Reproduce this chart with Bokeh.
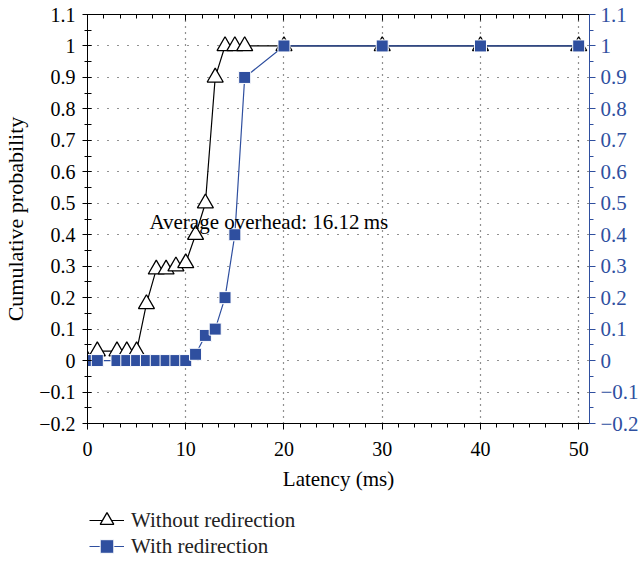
from bokeh.plotting import figure
from bokeh.models import (Range1d, LinearAxis, SingleIntervalTicker, CustomJSTickFormatter,
                          Legend, LegendItem, Label)
from bokeh.layouts import column
from bokeh.embed import file_html
from bokeh.resources import INLINE

# ---- data ----
without_x = [0, 1, 3, 4, 5, 6, 7, 8, 9, 10, 11, 12, 13, 14, 15, 16, 20, 30, 40, 50]
without_y = [0, 0.03, 0.03, 0.03, 0.03, 0.18, 0.29, 0.29, 0.30, 0.31, 0.40, 0.50, 0.90,
             1, 1, 1, 1, 1, 1, 1]
with_x = [0, 1, 3, 4, 5, 6, 7, 8, 9, 10, 11, 12, 13, 14, 15, 16, 20, 30, 40, 50]
with_y = [0, 0, 0, 0, 0, 0, 0, 0, 0, 0, 0.02, 0.08, 0.10, 0.20, 0.40, 0.90, 1, 1, 1, 1]
series_labels = ["Without redirection", "With redirection"]
annotation_text = "Average overhead: 16.12\u2009ms"
x_label = "Latency (ms)"
y_label = "Cumulative probability"

BLUE = "#2f4f9f"
FONT = "Liberation Serif"
NAN = float("nan")

p = figure(width=642, height=503, output_backend="svg", toolbar_location=None,
           x_range=Range1d(0, 51.1), y_range=Range1d(-0.2, 1.1),
           x_axis_location=None, y_axis_location=None,
           min_border_left=86, min_border_right=53, min_border_top=14, min_border_bottom=80)
p.extra_y_ranges = {"right": Range1d(-0.2, 1.1)}
p.outline_line_color = "black"
p.background_fill_color = "white"
p.border_fill_color = "white"

fmt_code = """
const v = Math.round(tick * 10) / 10;
return (v < 0 ? "\u2212" : "") + String(Math.abs(v));
"""

def style_axis(ax, color, tick_in, tick_out, minor_in, minor_out):
    ax.axis_line_color = color
    ax.major_tick_line_color = color
    ax.minor_tick_line_color = color
    ax.major_tick_in = tick_in
    ax.major_tick_out = tick_out
    ax.minor_tick_in = minor_in
    ax.minor_tick_out = minor_out
    ax.major_label_text_font = FONT
    ax.major_label_text_font_size = "20px"
    ax.major_label_text_color = color
    ax.axis_label_text_font = FONT
    ax.axis_label_text_font_style = "normal"
    ax.axis_label_text_font_size = "21px"
    ax.axis_label_text_color = color

# bottom axis
xb = LinearAxis(ticker=SingleIntervalTicker(interval=10, num_minor_ticks=6), axis_label=x_label)
style_axis(xb, "black", 0, 6, 0, 4)
xb.major_label_standoff = 12
xb.axis_label_standoff = 8
p.add_layout(xb, "below")

# top axis (ticks only)
xt = LinearAxis(ticker=SingleIntervalTicker(interval=10, num_minor_ticks=6),
                formatter=CustomJSTickFormatter(code="return '';"))
style_axis(xt, "black", 6, 0, 4, 0)
xt.major_label_standoff = 0
p.add_layout(xt, "above")

# left axis
yl = LinearAxis(ticker=SingleIntervalTicker(interval=0.1, num_minor_ticks=2),
                formatter=CustomJSTickFormatter(code=fmt_code), axis_label=y_label)
style_axis(yl, "black", 4, 5, 4, 3)
yl.axis_label_text_font_size = "22px"
yl.major_label_standoff = 7
yl.axis_label_standoff = 8
p.add_layout(yl, "left")

# right axis
yr = LinearAxis(y_range_name="right", ticker=SingleIntervalTicker(interval=0.1, num_minor_ticks=2),
                formatter=CustomJSTickFormatter(code=fmt_code))
style_axis(yr, BLUE, 0, 6, 0, 4)
yr.major_label_text_font_size = "21px"
yr.major_label_standoff = 5
p.add_layout(yr, "right")

# grids
p.xgrid.ticker = SingleIntervalTicker(interval=10)
p.ygrid.ticker = SingleIntervalTicker(interval=0.1)
for g in (p.xgrid, p.ygrid):
    g.grid_line_color = "#222222"
    g.grid_line_width = 1.2
p.xgrid.grid_line_dash = "1 5"
p.ygrid.grid_line_dash = "1 9"

# series
line_kw1 = dict(line_color="black", line_width=1.2)
mark_kw1 = dict(marker="triangle", size=16, fill_color="white", line_color="black", line_width=1.3)
line_kw2 = dict(line_color=BLUE, line_width=1.2)
mark_kw2 = dict(marker="square", size=12, fill_color=BLUE, line_color="white", line_width=1.0)

p.line(without_x, without_y, **line_kw1)
p.scatter(without_x, without_y, **mark_kw1)
p.line(with_x, with_y, **line_kw2)
p.scatter(with_x, with_y, **mark_kw2)

p.add_layout(Label(x=6.3, y=0.44, text=annotation_text, text_font=FONT,
                   text_font_size="21px", text_color="black", text_baseline="alphabetic"))

# legend strip below the plot (legend-only figure; its renderers hold no visible data)
lf = figure(width=642, height=58, output_backend="svg", toolbar_location=None,
            x_range=Range1d(0, 1), y_range=Range1d(0, 1),
            min_border=0, outline_line_color=None)
lf.xaxis.visible = False
lf.yaxis.visible = False
lf.grid.visible = False
lf.border_fill_color = "white"
r1l = lf.line(x=[NAN], y=[NAN], **line_kw1)
r1s = lf.scatter(x=[NAN], y=[NAN], **mark_kw1)
r2l = lf.line(x=[NAN], y=[NAN], **line_kw2)
r2s = lf.scatter(x=[NAN], y=[NAN], **mark_kw2)

def make_legend(label, renderers, bottom):
    lg = Legend(items=[LegendItem(label=label, renderers=renderers)],
                location=(2, bottom), orientation="vertical")
    lg.border_line_color = None
    lg.background_fill_alpha = 0
    lg.label_text_font = FONT
    lg.label_text_font_size = "21px"
    lg.label_text_color = "#222222"
    lg.glyph_width = 35
    lg.glyph_height = 34
    lg.label_height = 20
    lg.padding = 0
    lg.margin = 0
    lg.label_standoff = 7
    return lg

lf.add_layout(make_legend(series_labels[0], [r1l, r1s], 24), "center")
lf.add_layout(make_legend(series_labels[1], [r2l, r2s], -2), "center")

layout = column(p, lf, spacing=0)
open("out.html", "w").write(file_html(layout, INLINE))
